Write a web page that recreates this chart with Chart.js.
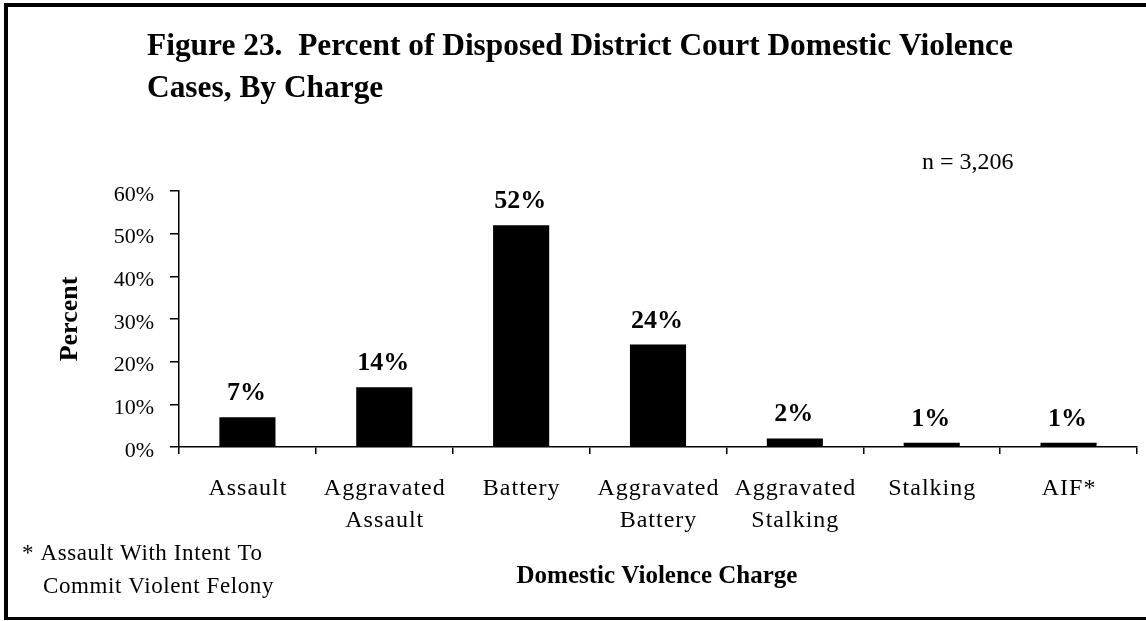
<!DOCTYPE html>
<html>
<head>
<meta charset="utf-8">
<script src="https://cdn.jsdelivr.net/npm/chart.js@4.4.1/dist/chart.umd.min.js"></script>
<style>
  html, body { margin: 0; padding: 0; background: #fff; }
  #wrap { position: relative; width: 1146px; height: 621px; }
  canvas { display: block; }
</style>
</head>
<body>
<div id="wrap"><canvas id="c" width="1146" height="621"></canvas></div>
<script>
const categories = [
  ["Assault"],
  ["Aggravated", "Assault"],
  ["Battery"],
  ["Aggravated", "Battery"],
  ["Aggravated", "Stalking"],
  ["Stalking"],
  ["AIF*"]
];
const percentValues = [7, 14, 52, 24, 2, 1, 1];
const yTickMax = 60;
const yTickStep = 10;
const titleLines = ["Figure 23.  Percent of Disposed District Court Domestic Violence", "Cases, By Charge"];
const nLabel = "n = 3,206";
const yAxisTitle = "Percent";
const xAxisTitle = "Domestic Violence Charge";
const footnoteLines = ["* Assault With Intent To", "Commit Violent Felony"];

const SERIF = '"Liberation Serif", "Times New Roman", Times, serif';

const decorPlugin = {
  id: 'decor',
  beforeDraw(chart) {
    const ctx = chart.ctx;
    ctx.save();
    ctx.fillStyle = '#fff';
    ctx.fillRect(0, 0, chart.width, chart.height);
    ctx.restore();
  },
  afterDatasetsDraw(chart) {
    const ctx = chart.ctx;
    const meta = chart.getDatasetMeta(0);
    ctx.save();
    ctx.fillStyle = '#000';
    ctx.font = 'bold 26px ' + SERIF;
    ctx.textAlign = 'center';
    ctx.textBaseline = 'alphabetic';
    meta.data.forEach((bar, i) => {
      ctx.fillText(percentValues[i] + '%', bar.x - 1, bar.y - 17);
    });
    ctx.restore();
  },
  afterDraw(chart) {
    const ctx = chart.ctx;
    const xs = chart.scales.x;
    ctx.save();
    ctx.fillStyle = '#000';
    // frame
    ctx.fillRect(4, 3, 4, 617);
    ctx.fillRect(4, 3, chart.width - 4, 4);
    ctx.fillRect(4, 617, chart.width - 4, 3);
    // title
    ctx.font = 'bold 31.4px ' + SERIF;
    ctx.textAlign = 'left';
    ctx.textBaseline = 'alphabetic';
    ctx.fillText(titleLines[0], 147, 55);
    ctx.fillText(titleLines[1], 147, 97);
    // n label
    ctx.font = '24px ' + SERIF;
    ctx.fillText(nLabel, 922, 169);
    // category labels
    ctx.font = '24px ' + SERIF;
    ctx.textAlign = 'center';
    ctx.letterSpacing = '1px';
    categories.forEach((lines, i) => {
      const x = xs.getPixelForTick(i) + 0.5;
      lines.forEach((t, j) => ctx.fillText(t, x, 495 + j * 32));
    });
    ctx.letterSpacing = '0px';
    // x axis title
    ctx.font = 'bold 25px ' + SERIF;
    ctx.fillText(xAxisTitle, 657, 583);
    // y axis title
    ctx.save();
    ctx.translate(70, 319);
    ctx.rotate(-Math.PI / 2);
    ctx.font = 'bold 26px ' + SERIF;
    ctx.textAlign = 'center';
    ctx.textBaseline = 'middle';
    ctx.fillText(yAxisTitle, 0, 0);
    ctx.restore();
    // footnote
    ctx.font = '23px ' + SERIF;
    ctx.textAlign = 'left';
    ctx.letterSpacing = '0.6px';
    ctx.fillText(footnoteLines[0], 22, 560);
    ctx.fillText(footnoteLines[1], 43, 593);
    ctx.letterSpacing = '0px';
    ctx.restore();
  }
};

new Chart(document.getElementById('c'), {
  type: 'bar',
  data: {
    labels: categories,
    datasets: [{
      data: percentValues,
      backgroundColor: '#000',
      borderWidth: 0,
      barPercentage: 0.41,
      categoryPercentage: 1.0
    }]
  },
  options: {
    responsive: false,
    animation: false,
    devicePixelRatio: 1,
    layout: { padding: { left: 0, top: 191, right: 9, bottom: 134 } },
    plugins: { legend: { display: false }, title: { display: false }, tooltip: { enabled: false } },
    scales: {
      x: {
        offset: true,
        grid: { display: true, drawOnChartArea: false, drawTicks: true, tickLength: 7, color: '#000', lineWidth: 1.5, offset: true },
        border: { display: true, color: '#000', width: 1.5 },
        ticks: { display: false },
        afterFit(scale) { scale.height = 40; }
      },
      y: {
        min: 0,
        max: yTickMax,
        grid: { display: true, drawOnChartArea: false, drawTicks: true, tickLength: 9, color: '#000', lineWidth: 1.5 },
        border: { display: true, color: '#000', width: 1.5 },
        ticks: {
          stepSize: yTickStep,
          padding: 16,
          labelOffset: 4,
          color: '#000',
          font: { family: SERIF, size: 22 },
          callback: v => v + '%'
        },
        afterFit(scale) { scale.width = 179; }
      }
    }
  },
  plugins: [decorPlugin]
});
</script>
</body>
</html>
